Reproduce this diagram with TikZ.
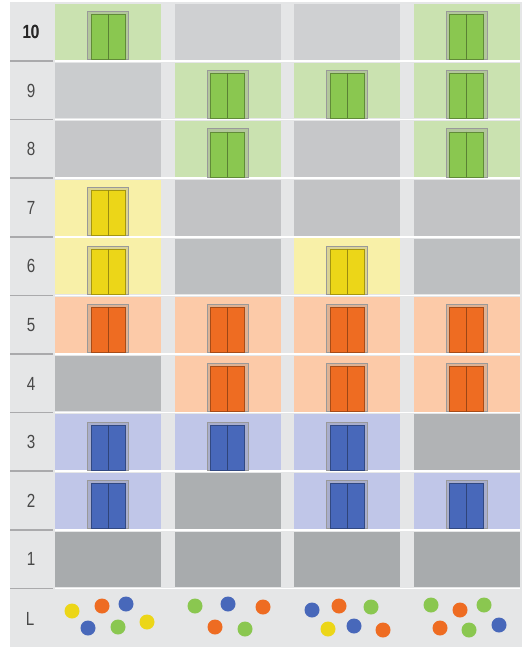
\documentclass[tikz,border=0pt]{standalone}
\usepackage{fontspec}
\setmainfont{Liberation Sans}
\newfontfamily\floorfont[FakeStretch=0.8]{Liberation Sans}
\usepackage{tikz}
\usetikzlibrary{positioning}
\definecolor{PanelGray}{RGB}{229,230,231}
\definecolor{SepGray}{RGB}{170,170,172}
\definecolor{GrayTop}{RGB}{207,208,210}
\definecolor{GrayBot}{RGB}{168,171,173}
\definecolor{GreenBg}{RGB}{202,226,176}
\definecolor{GreenDoor}{RGB}{138,199,80}
\definecolor{YellowBg}{RGB}{248,240,168}
\definecolor{YellowDoor}{RGB}{236,214,24}
\definecolor{OrangeBg}{RGB}{252,202,168}
\definecolor{OrangeDoor}{RGB}{238,108,34}
\definecolor{BlueBg}{RGB}{192,198,232}
\definecolor{BlueDoor}{RGB}{72,104,186}
\definecolor{LabelText}{RGB}{72,72,72}

\begin{document}
\begin{tikzpicture}[
  x=1pt, y=-1pt,
  cell/.style={rectangle, anchor=north west, inner sep=0pt,
               minimum width=106pt, minimum height=55.5pt},
  frame/.style={rectangle, inner sep=0pt, minimum width=41pt,
                minimum height=48pt, fill=#1Bg!88!black, draw=black!40,
                line width=0.6pt},
  door/.style={rectangle, inner sep=0pt, minimum width=34pt,
               minimum height=45pt, fill=#1Door, draw=#1Door!70!black,
               line width=0.5pt},
  floor/.style={font=\floorfont\fontsize{19}{19}\selectfont, text=LabelText},
  dot/.style={circle, inner sep=0pt, minimum size=15pt, fill=#1Door},
]
\useasboundingbox (0,0) rectangle (522,647);

% Panel
\fill[white] (0,0) rectangle (522,647);
\fill[PanelGray] (10,2) rectangle (522,647);

% Floors (gray cells first)
\foreach \f in {1,...,10}{
  \pgfmathtruncatemacro\mix{(\f-1)*100/9}
  \foreach \c in {1,...,4}
    \node[cell, fill=GrayTop!\mix!GrayBot] (cell-\c-\f)
      at ({55+119.5*(\c-1)}, {4+58.6*(10-\f)}) {};
  \draw[white, line width=1.6pt] (55, {4+58.6*(10-\f)+57}) -- (520, {4+58.6*(10-\f)+57});
  \draw[SepGray, line width=1.5pt] (10, {4+58.6*(10-\f)+57}) -- (53, {4+58.6*(10-\f)+57});
  \node[floor] (lab-\f) at (31, {4+58.6*(10-\f)+28}) {\f};
}
\node[floor, font=\floorfont\bfseries\fontsize{19}{19}\selectfont, text=black!85]
  at (lab-10) {10};
\node[floor] (lab-L) at (30, 619) {L};

% Elevator stops
\foreach \c/\f/\k in {1/10/Green, 1/7/Yellow, 1/6/Yellow, 1/5/Orange, 1/3/Blue, 1/2/Blue,
                      2/9/Green, 2/8/Green, 2/5/Orange, 2/4/Orange, 2/3/Blue,
                      3/9/Green, 3/6/Yellow, 3/5/Orange, 3/4/Orange, 3/3/Blue, 3/2/Blue,
                      4/10/Green, 4/9/Green, 4/8/Green, 4/5/Orange, 4/4/Orange, 4/2/Blue}{
  \fill[\k Bg] (cell-\c-\f.south west) rectangle (cell-\c-\f.north east);
  \node[frame=\k, above=0pt of cell-\c-\f.south, anchor=south] (frame-\c-\f) {};
  \node[door=\k, anchor=south] (door-\c-\f) at (frame-\c-\f.south) {};
  \draw[\k Door!65!black, line width=0.5pt] (door-\c-\f.north) -- (door-\c-\f.south);
}

% Waiting passengers in the lobby
\foreach \x/\y/\k [count=\i] in {72/611/Yellow, 102/606/Orange, 126/604/Blue,
                                 88/628/Blue, 118/627/Green, 147/622/Yellow,
                                 195/606/Green, 228/604/Blue, 263/607/Orange,
                                 215/627/Orange, 245/629/Green,
                                 312/610/Blue, 339/606/Orange, 371/607/Green,
                                 328/629/Yellow, 354/626/Blue, 383/630/Orange,
                                 431/605/Green, 460/610/Orange, 484/605/Green,
                                 440/628/Orange, 469/630/Green, 499/625/Blue}
  \node[dot=\k] (dot-\i) at (\x,\y) {};

\end{tikzpicture}
\end{document}
